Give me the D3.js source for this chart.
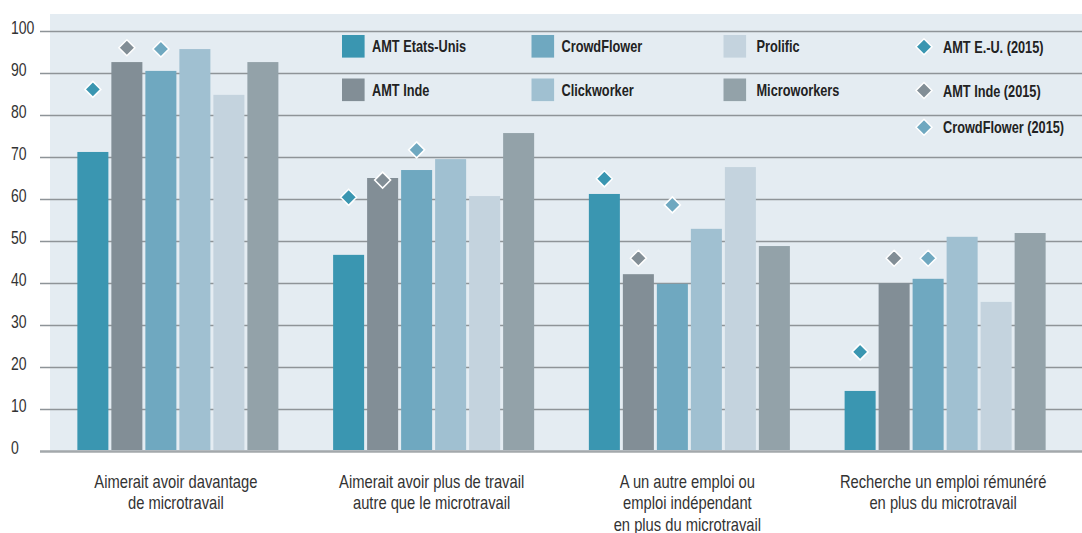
<!DOCTYPE html>
<html>
<head>
<meta charset="utf-8">
<script src="https://cdn.jsdelivr.net/npm/d3@7"></script>
<style>
  body { margin: 0; background: #fff; }
  svg { display: block; }
  text { font-family: "Liberation Sans", Arial, sans-serif; }
  .tick-label { font-size: 18px; fill: #333; }
  .cat-label { font-size: 18px; fill: #333; }
  .legend-label { font-size: 17px; font-weight: bold; fill: #222; }
</style>
</head>
<body>
<div id="chart"></div>
<script>
// categories (one entry per line of the label)
var categories = [
  ["Aimerait avoir davantage", "de microtravail"],
  ["Aimerait avoir plus de travail", "autre que le microtravail"],
  ["A un autre emploi ou", "emploi indépendant", "en plus du microtravail"],
  ["Recherche un emploi rémunéré", "en plus du microtravail"]
];

var seriesNames = ["AMT Etats-Unis", "AMT Inde", "CrowdFlower", "Clickworker", "Prolific", "Microworkers"];
var amtUS        = [71.2, 46.7, 61.2, 14.3];
var amtInde      = [92.6, 65.0, 42.1, 40.0];
var crowdFlower  = [90.5, 66.9, 39.8, 41.0];
var clickworker  = [95.7, 69.5, 52.9, 51.0];
var prolific     = [84.8, 60.7, 67.6, 35.5];
var microworkers = [92.6, 75.7, 48.8, 51.9];

// 2015 markers
var markerNames = ["AMT E.-U. (2015)", "AMT Inde (2015)", "CrowdFlower (2015)"];
var amtUS2015       = [86.1, 60.4, 64.8, 23.6];
var amtInde2015     = [96.0, 64.5, 45.9, 45.9];
var crowdFlower2015 = [95.7, 71.7, 58.6, 45.9];

var yTicks = [0, 10, 20, 30, 40, 50, 60, 70, 80, 90, 100];

var barColors = ["#3a96b1", "#828e96", "#6fa8c0", "#a0c0d1", "#c4d3de", "#93a2a9"];

var seriesValues = [amtUS, amtInde, crowdFlower, clickworker, prolific, microworkers];
// each marker sits over the bar of the matching series
var markers = [
  {name: markerNames[0], values: amtUS2015, series: 0},
  {name: markerNames[1], values: amtInde2015, series: 1},
  {name: markerNames[2], values: crowdFlower2015, series: 2}
];

var W = 1082, H = 533;
var svg = d3.select("#chart").append("svg")
  .attr("width", W)
  .attr("height", H);

var plotLeft = 50, plotTop = 14, plotBottom = 451;

var y = d3.scaleLinear().domain([0, 100]).range([plotBottom, 31]);

var x0 = d3.scaleBand()
  .domain(d3.range(categories.length))
  .range([plotLeft, 1073])
  .paddingInner(0.214)
  .paddingOuter(0.107);

var x1 = d3.scaleBand()
  .domain(d3.range(seriesNames.length))
  .range([0, x0.bandwidth()])
  .paddingInner(0.088);

// the original uses a condensed face, so squeeze the text horizontally
function squeeze(x, yy, k) {
  return "translate(" + x + "," + yy + ") scale(" + k + ",1)";
}

// background of plot
svg.append("rect")
  .attr("x", plotLeft)
  .attr("y", plotTop)
  .attr("width", W - plotLeft)
  .attr("height", plotBottom - plotTop)
  .attr("fill", "#e4ecf2");

// gridlines
var yAxis = d3.axisLeft(y)
  .tickValues(yTicks)
  .tickSize(-(W - 40))
  .tickFormat("");
var grid = svg.append("g")
  .attr("transform", "translate(40,0)")
  .call(yAxis);
grid.select(".domain").remove();
grid.selectAll(".tick line")
  .attr("stroke", function(d) { return d === 0 ? "#a3a8ab" : "#8e9498"; })
  .attr("stroke-width", function(d) { return d === 0 ? 2.5 : 1.5; });

// tick labels
svg.selectAll(".tick-label")
  .data(yTicks)
  .enter().append("text")
  .attr("class", "tick-label")
  .attr("transform", function(d) { return squeeze(11, y(d) + 2.5, 0.78); })
  .text(function(d) { return d; });

// bars
var groups = svg.selectAll(".group")
  .data(categories)
  .enter().append("g")
  .attr("class", "group")
  .attr("transform", function(d, i) { return "translate(" + x0(i) + ",0)"; });

groups.selectAll("rect")
  .data(function(d, i) { return seriesValues.map(function(vals, s) { return {s: s, v: vals[i]}; }); })
  .enter().append("rect")
  .attr("x", function(d) { return x1(d.s); })
  .attr("y", function(d) { return y(d.v); })
  .attr("width", x1.bandwidth())
  .attr("height", function(d) { return plotBottom - 1 - y(d.v); })
  .attr("fill", function(d) { return barColors[d.s]; });

// diamonds
var diamond = "M0,-8L8,0L0,8L-8,0Z";
groups.each(function(cat, i) {
  d3.select(this).selectAll(".marker")
    .data(markers)
    .enter().append("path")
    .attr("class", "marker")
    .attr("d", diamond)
    .attr("transform", function(m) {
      return "translate(" + (x1(m.series) + x1.bandwidth() / 2) + "," + y(m.values[i]) + ")";
    })
    .attr("fill", function(m) { return barColors[m.series]; })
    .attr("stroke", "#fff")
    .attr("stroke-width", 1.5);
});

// category labels
svg.selectAll(".cat-label")
  .data(categories)
  .enter().append("text")
  .attr("class", "cat-label")
  .attr("text-anchor", "middle")
  .attr("transform", function(d, i) { return squeeze(x0(i) + x0.bandwidth() / 2 - 2, 488, 0.82); })
  .selectAll("tspan")
  .data(function(d) { return d; })
  .enter().append("tspan")
  .attr("x", 0)
  .attr("y", function(d, j) { return j * 21.5; })
  .text(function(d) { return d; });

// legend - bars
var legendCols = [342, 531.5, 723.5];
var legendRows = [46.3, 89.8];
var legend = svg.append("g");
seriesNames.forEach(function(name, s) {
  var col = Math.floor(s / 2), row = s % 2;
  var gx = legendCols[col], gy = legendRows[row];
  legend.append("rect")
    .attr("x", gx)
    .attr("y", gy - 11.3)
    .attr("width", 22.6)
    .attr("height", 22.6)
    .attr("fill", barColors[s]);
  legend.append("text")
    .attr("class", "legend-label")
    .attr("transform", squeeze(gx + 30 + (col === 2 ? 3 : 0), gy + 6, 0.75))
    .text(name);
});

// legend - diamonds
var markerRows = [46.7, 90.5, 127.3];
markers.forEach(function(m, k) {
  legend.append("path")
    .attr("d", diamond)
    .attr("transform", "translate(924," + markerRows[k] + ")")
    .attr("fill", barColors[m.series])
    .attr("stroke", "#fff")
    .attr("stroke-width", 1.5);
  legend.append("text")
    .attr("class", "legend-label")
    .attr("transform", squeeze(943, markerRows[k] + 6, 0.75))
    .text(m.name);
});
</script>
</body>
</html>
